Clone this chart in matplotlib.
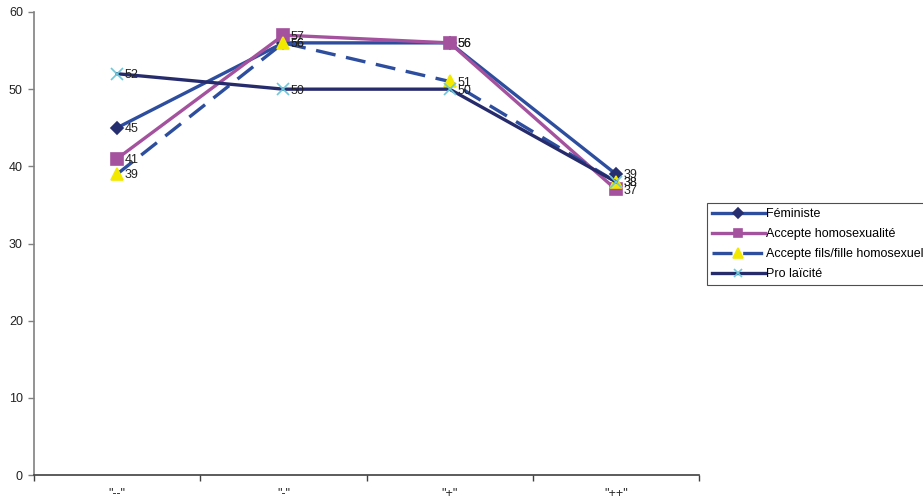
import matplotlib
matplotlib.use("Agg")
import matplotlib.pyplot as plt
import numpy as np

categories = ['"--"', '"-"', '"+"', '"++"']
feministe = [45, 56, 56, 39]
homosexualite = [41, 57, 56, 37]
fils_fille = [39, 56, 51, 38]
pro_laicite = [52, 50, 50, 38]
y_ticks = [0, 10, 20, 30, 40, 50, 60]

plt.rcParams['font.family'] = ['Liberation Sans', 'DejaVu Sans']
FS = 9

fig = plt.figure(figsize=(9.23, 5.01), dpi=100)
ax = fig.add_axes([34 / 923, 26 / 501, (699 - 34) / 923, (475 - 12) / 501])

x = np.arange(len(categories))

series = [
    dict(y=feministe, label="Féministe", color="#2D4E9E", ls="-",
         marker="D", mfc="#252E6E", mec="#252E6E", ms=6),
    dict(y=homosexualite, label="Accepte homosexualité", color="#A4529E", ls="-",
         marker="s", mfc="#A4529E", mec="#A4529E", ms=8),
    dict(y=fils_fille, label="Accepte fils/fille homosexuel", color="#2D4E9E", ls=(0, (6, 3.2)),
         marker="^", mfc="#F2E800", mec="#F2E800", ms=9),
    dict(y=pro_laicite, label="Pro laïcité", color="#262B6C", ls="-",
         marker="x", mfc="#6EC8DA", mec="#6EC8DA", ms=8),
]

for s in series:
    ax.plot(x, s["y"], color=s["color"], lw=2.4, ls=s["ls"], marker=s["marker"],
            markerfacecolor=s["mfc"], markeredgecolor=s["mec"], markersize=s["ms"],
            markeredgewidth=1.2, label=s["label"], zorder=3)
    for xi, yi in zip(x, s["y"]):
        ax.annotate(str(yi), (xi, yi), xytext=(5.5, -1), textcoords="offset points",
                    ha="left", va="center", fontsize=FS, color="#222222", zorder=4)

ax.set_xlim(-0.5, len(categories) - 0.5)
ax.set_ylim(0, 60)
ax.set_yticks(y_ticks)
ax.tick_params(axis="y", labelsize=FS, length=4, width=1, color="#808080", pad=4, labelcolor="#222222")

ax.set_xticks(np.arange(len(categories) + 1) - 0.5)
ax.set_xticklabels([])
ax.set_xticks(x, minor=True)
ax.set_xticklabels(categories, minor=True)
ax.tick_params(axis="x", which="major", length=4, width=1, color="#404040")
ax.tick_params(axis="x", which="minor", length=0, labelsize=FS, pad=9, labelcolor="#222222")

for side in ("top", "right"):
    ax.spines[side].set_visible(False)
ax.spines["left"].set_color("#808080")
ax.spines["left"].set_linewidth(1.2)
ax.spines["bottom"].set_color("#404040")
ax.spines["bottom"].set_linewidth(1.2)

leg = fig.legend(loc="upper left", bbox_to_anchor=(707 / 923, (501 - 203) / 501),
                 bbox_transform=fig.transFigure, fontsize=FS, frameon=True,
                 fancybox=False, edgecolor="#222222", borderaxespad=0,
                 handlelength=4.2, handletextpad=0.1, labelspacing=0.65,
                 borderpad=0.4, markerscale=0.8)
leg.get_frame().set_linewidth(0.8)

fig.savefig("out.png", dpi=100)
